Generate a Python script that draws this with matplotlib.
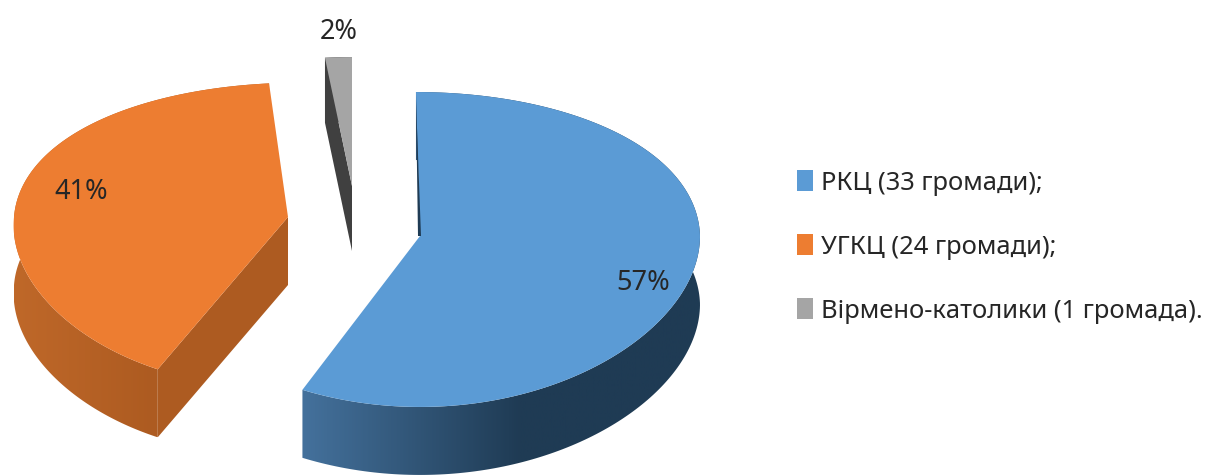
import numpy as np
import matplotlib
matplotlib.use("Agg")
import matplotlib.pyplot as plt
from matplotlib.patches import Patch, Polygon

# communities per church
names = ["РКЦ", "УГКЦ", "Вірмено-католики"]
counts = [33, 24, 1]
suffix = ["(33 громади);", "(24 громади);", "(1 громада)."]

top_colors = ["#5b9bd5", "#ed7d31", "#a5a5a5"]
wall_left = ["#44719c", "#bf6829", "#555555"]
wall_right = ["#1f3b54", "#ad5b21", "#333333"]
side_colors = ["#1f3b54", "#ad5b21", "#404040"]

# pixel position of each slice tip, and its look on screen
tips = [(420, 237), (288, 218), (352, 187)]
rx = [280, 274, 250]
ry = [156.3, 150, 140]
persp = [0.0857, 0.117, 0.0857]
shear_far = [0.028, -0.08, 0.0]
shear_near = [0.0, -0.10, 0.0]
wall_h = [68, 68, 65]
label_pos = [(643, 283), (81, 192), (339, 32)]

plt.rcParams["font.family"] = ["Noto Sans", "DejaVu Sans"]


# flat disc seen at an angle, near edge a bit lower than far edge
def project(deg, i):
    rad = np.radians(deg)
    u, v = np.cos(rad), -np.sin(rad)
    dy = ry[i] * v / (1 - persp[i] * v)
    dx = rx[i] * u + np.where(dy < 0, shear_far[i], shear_near[i]) * dy
    return tips[i][0] + dx, tips[i][1] + dy


def gradient_fill(ax, pts, c1, c2, z):
    patch = Polygon(pts, closed=True, fc="none", ec="none", zorder=z)
    ax.add_patch(patch)
    col = matplotlib.colors.LinearSegmentedColormap.from_list("w", [c1, c2])
    x0, x1 = pts[:, 0].min(), pts[:, 0].max()
    y0, y1 = pts[:, 1].min(), pts[:, 1].max()
    ramp = np.clip(np.linspace(0, 1, 256) / 0.55, 0, 1)
    im = ax.imshow(ramp[None, :], cmap=col, aspect="auto", vmin=0, vmax=1,
                   extent=(x0, x1, y1, y0), zorder=z)
    im.set_clip_path(patch)


fig = plt.figure(figsize=(12.11, 4.77), dpi=100)
ax = fig.add_axes([0, 0, 1, 1])

total = sum(counts)
start = 90.0
for i, c in enumerate(counts):
    sweep = 360.0 * c / total
    angles = np.linspace(start, start - sweep, 200)
    px, py = project(angles, i)
    h = wall_h[i]
    tip = tips[i]

    # outer wall
    outer = np.column_stack([np.r_[px, px[::-1]], np.r_[py, py[::-1] + h]])
    gradient_fill(ax, outer, wall_left[i], wall_right[i], 2)

    # cut face turned to the viewer
    if i > 0:
        ax.add_patch(Polygon([tip, (px[0], py[0]), (px[0], py[0] + h), (tip[0], tip[1] + h)],
                             fc=side_colors[i], ec="none", zorder=3))

    # top face
    top = np.column_stack([np.r_[tip[0], px], np.r_[tip[1], py]])
    ax.add_patch(Polygon(top, fc=top_colors[i], ec="none", zorder=4))

    if i == 0:
        # thin dark sliver of the inner cut
        ax.add_patch(Polygon([(px[0], py[0] + 8), (tip[0] + 1, tip[1]), (tip[0] - 2, tip[1])],
                             fc=side_colors[i], ec="none", zorder=5))

    ax.text(label_pos[i][0], label_pos[i][1], f"{100 * c / total:.0f}%", fontsize=19.5,
            color="#262626", ha="center", va="center", zorder=6)
    start -= sweep

handles = [Patch(fc=col, ec="none") for col in top_colors]
labels = [f"{n} {s}" for n, s in zip(names, suffix)]
ax.legend(handles, labels, loc="upper left", bbox_to_anchor=(797, 171), bbox_transform=ax.transData,
          frameon=False, fontsize=18.4, handlelength=0.62, handleheight=0.9, handletextpad=0.32,
          labelspacing=1.5, borderpad=0, borderaxespad=0, labelcolor="#262626")

ax.set_xlim(0, 1211)
ax.set_ylim(477, 0)
ax.axis("off")

fig.savefig("out.png", dpi=100)
